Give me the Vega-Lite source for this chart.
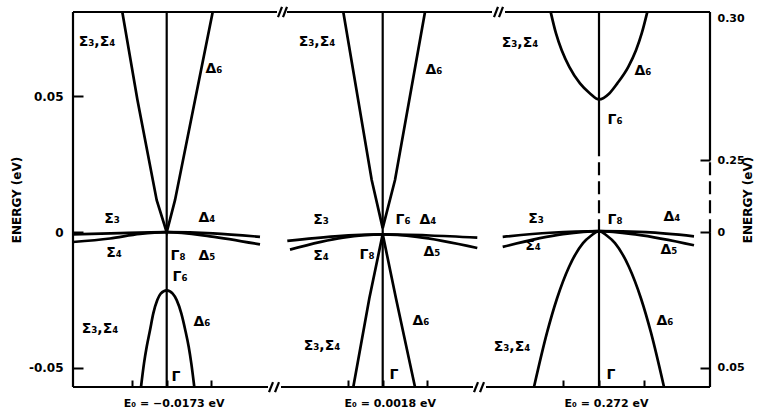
{
  "$schema": "https://vega.github.io/schema/vega-lite/v6.json",
  "width": 637,
  "height": 375,
  "autosize": "none",
  "padding": {"left": 73, "top": 12, "right": 51, "bottom": 24},
  "background": "white",
  "config": {
    "view": {"stroke": null},
    "text": {"font": "DejaVu Sans"},
    "axis": {"labelFont": "DejaVu Sans", "titleFont": "DejaVu Sans", "labelColor": "black", "titleColor": "black", "tickColor": "black", "grid": false, "domain": false}
  },
  "datasets": {
    "vlines": [
      {"b": "p1c", "k": 0.493, "E": 0.0811}, {"b": "p1c", "k": 0.645, "E": 0.0486}, {"b": "p1c", "k": 0.837, "E": 0.0118}, {"b": "p1c", "k": 0.937, "E": 0}, {"b": "p1c", "k": 1.02, "E": 0.0118}, {"b": "p1c", "k": 1.22, "E": 0.0486}, {"b": "p1c", "k": 1.397, "E": 0.0811},
      {"b": "p2c", "k": 2.703, "E": 0.0811}, {"b": "p2c", "k": 2.987, "E": 0.0192}, {"b": "p2c", "k": 3.097, "E": 0.0015}, {"b": "p2c", "k": 3.22, "E": 0.0192}, {"b": "p2c", "k": 3.52, "E": 0.0811},
      {"b": "p2v", "k": 2.803, "E": -0.057}, {"b": "p2v", "k": 2.963, "E": -0.0244}, {"b": "p2v", "k": 3.097, "E": -0.0007}, {"b": "p2v", "k": 3.23, "E": -0.0244}, {"b": "p2v", "k": 3.42, "E": -0.057}
    ],
    "curves": [
      {"b": "p1v", "k": 0.68, "E": -0.057}, {"b": "p1v", "k": 0.71, "E": -0.0483}, {"b": "p1v", "k": 0.737, "E": -0.0422}, {"b": "p1v", "k": 0.77, "E": -0.0361}, {"b": "p1v", "k": 0.803, "E": -0.0299}, {"b": "p1v", "k": 0.843, "E": -0.025}, {"b": "p1v", "k": 0.877, "E": -0.0226}, {"b": "p1v", "k": 0.937, "E": -0.0214}, {"b": "p1v", "k": 0.997, "E": -0.0226}, {"b": "p1v", "k": 1.037, "E": -0.025}, {"b": "p1v", "k": 1.083, "E": -0.0299}, {"b": "p1v", "k": 1.123, "E": -0.0361}, {"b": "p1v", "k": 1.157, "E": -0.0422}, {"b": "p1v", "k": 1.183, "E": -0.0483}, {"b": "p1v", "k": 1.213, "E": -0.057},
      {"b": "p1h1", "k": 0, "E": -0.0008}, {"b": "p1h1", "k": 0.47, "E": -0.0003}, {"b": "p1h1", "k": 0.937, "E": 0}, {"b": "p1h1", "k": 1.4, "E": -0.0004}, {"b": "p1h1", "k": 1.87, "E": -0.0017},
      {"b": "p1h2", "k": 0, "E": -0.0036}, {"b": "p1h2", "k": 0.37, "E": -0.0023}, {"b": "p1h2", "k": 0.67, "E": -0.0006}, {"b": "p1h2", "k": 0.937, "E": 0}, {"b": "p1h2", "k": 1.37, "E": -0.0015}, {"b": "p1h2", "k": 1.87, "E": -0.0045},
      {"b": "p2h1", "k": 2.143, "E": -0.0032}, {"b": "p2h1", "k": 2.62, "E": -0.0015}, {"b": "p2h1", "k": 3.097, "E": -0.0008}, {"b": "p2h1", "k": 3.57, "E": -0.0012}, {"b": "p2h1", "k": 4.043, "E": -0.002},
      {"b": "p2h2", "k": 2.17, "E": -0.0064}, {"b": "p2h2", "k": 2.7, "E": -0.002}, {"b": "p2h2", "k": 3.097, "E": -0.0008}, {"b": "p2h2", "k": 3.44, "E": -0.0017}, {"b": "p2h2", "k": 4.043, "E": -0.0058},
      {"b": "p3c", "k": 4.777, "E": 0.0811}, {"b": "p3c", "k": 4.83, "E": 0.0732}, {"b": "p3c", "k": 4.887, "E": 0.067}, {"b": "p3c", "k": 4.963, "E": 0.0609}, {"b": "p3c", "k": 5.07, "E": 0.0548}, {"b": "p3c", "k": 5.17, "E": 0.0511}, {"b": "p3c", "k": 5.26, "E": 0.0489}, {"b": "p3c", "k": 5.363, "E": 0.0511}, {"b": "p3c", "k": 5.443, "E": 0.0548}, {"b": "p3c", "k": 5.553, "E": 0.0609}, {"b": "p3c", "k": 5.63, "E": 0.067}, {"b": "p3c", "k": 5.687, "E": 0.0732}, {"b": "p3c", "k": 5.743, "E": 0.0811},
      {"b": "p3v", "k": 4.61, "E": -0.057}, {"b": "p3v", "k": 4.74, "E": -0.037}, {"b": "p3v", "k": 4.84, "E": -0.0244}, {"b": "p3v", "k": 4.96, "E": -0.0128}, {"b": "p3v", "k": 5.1, "E": -0.004}, {"b": "p3v", "k": 5.18, "E": -0.0013}, {"b": "p3v", "k": 5.26, "E": 0.0004}, {"b": "p3v", "k": 5.34, "E": -0.0013}, {"b": "p3v", "k": 5.42, "E": -0.004}, {"b": "p3v", "k": 5.56, "E": -0.0128}, {"b": "p3v", "k": 5.68, "E": -0.0244}, {"b": "p3v", "k": 5.78, "E": -0.037}, {"b": "p3v", "k": 5.91, "E": -0.057},
      {"b": "p3h1", "k": 4.297, "E": -0.0017}, {"b": "p3h1", "k": 4.77, "E": -0.0002}, {"b": "p3h1", "k": 5.26, "E": 0.0004}, {"b": "p3h1", "k": 5.73, "E": 0}, {"b": "p3h1", "k": 6.21, "E": -0.0015},
      {"b": "p3h2", "k": 4.297, "E": -0.0054}, {"b": "p3h2", "k": 4.9, "E": -0.0007}, {"b": "p3h2", "k": 5.26, "E": 0.0004}, {"b": "p3h2", "k": 5.64, "E": -0.0009}, {"b": "p3h2", "k": 6.21, "E": -0.0048}
    ],
    "rules": [
      {"k": 0, "k2": 0, "E": -0.057, "E2": 0.0811, "s": "solid"},
      {"k": 0, "k2": 2.04, "E": 0.0811, "E2": 0.0811, "s": "solid"},
      {"k": 2.14, "k2": 4.19, "E": 0.0811, "E2": 0.0811, "s": "solid"},
      {"k": 4.32, "k2": 6.37, "E": 0.0811, "E2": 0.0811, "s": "solid"},
      {"k": 0, "k2": 1.95, "E": -0.057, "E2": -0.057, "s": "solid"},
      {"k": 2.08, "k2": 4.0, "E": -0.057, "E2": -0.057, "s": "solid"},
      {"k": 4.13, "k2": 6.37, "E": -0.057, "E2": -0.057, "s": "solid"},
      {"k": 6.37, "k2": 6.37, "E": -0.057, "E2": 0, "s": "solid"},
      {"k": 6.37, "k2": 6.37, "E": 0, "E2": 0.0265, "s": "dashed"},
      {"k": 6.37, "k2": 6.37, "E": 0.0265, "E2": 0.0811, "s": "solid"},
      {"k": 0.937, "k2": 0.937, "E": -0.057, "E2": 0.0811, "s": "solid"},
      {"k": 3.097, "k2": 3.097, "E": -0.057, "E2": 0.0811, "s": "solid"},
      {"k": 5.26, "k2": 5.26, "E": -0.057, "E2": 0, "s": "solid"},
      {"k": 5.26, "k2": 5.26, "E": 0, "E2": 0.0284, "s": "dashed"},
      {"k": 5.26, "k2": 5.26, "E": 0.0284, "E2": 0.0811, "s": "solid"},
      {"k": 2.05, "k2": 2.09, "E": 0.0792, "E2": 0.083, "s": "solid"},
      {"k": 2.1, "k2": 2.14, "E": 0.0792, "E2": 0.083, "s": "solid"},
      {"k": 4.21, "k2": 4.25, "E": 0.0792, "E2": 0.083, "s": "solid"},
      {"k": 4.26, "k2": 4.3, "E": 0.0792, "E2": 0.083, "s": "solid"},
      {"k": 1.96, "k2": 2.0, "E": -0.0589, "E2": -0.0552, "s": "solid"},
      {"k": 2.02, "k2": 2.06, "E": -0.0589, "E2": -0.0552, "s": "solid"},
      {"k": 4.01, "k2": 4.05, "E": -0.0589, "E2": -0.0552, "s": "solid"},
      {"k": 4.07, "k2": 4.11, "E": -0.0589, "E2": -0.0552, "s": "solid"}
    ],
    "labels": [
      {"t": "Σ₃,Σ₄", "k": 0.24, "E": 0.07}, {"t": "Δ₆", "k": 1.41, "E": 0.06}, {"t": "Σ₃", "k": 0.39, "E": 0.0048}, {"t": "Δ₄", "k": 1.34, "E": 0.0051}, {"t": "Σ₄", "k": 0.41, "E": -0.0077}, {"t": "Γ₈", "k": 1.05, "E": -0.0088}, {"t": "Δ₅", "k": 1.34, "E": -0.0088}, {"t": "Γ₆", "k": 1.07, "E": -0.0166}, {"t": "Δ₆", "k": 1.29, "E": -0.0331}, {"t": "Σ₃,Σ₄", "k": 0.27, "E": -0.0357}, {"t": "Γ", "k": 1.03, "E": -0.0534},
      {"t": "Σ₃,Σ₄", "k": 2.44, "E": 0.07}, {"t": "Δ₆", "k": 3.61, "E": 0.0597}, {"t": "Σ₃", "k": 2.48, "E": 0.0044}, {"t": "Γ₆", "k": 3.3, "E": 0.0044}, {"t": "Δ₄", "k": 3.55, "E": 0.0044}, {"t": "Σ₄", "k": 2.48, "E": -0.0088}, {"t": "Γ₈", "k": 2.94, "E": -0.0085}, {"t": "Δ₅", "k": 3.59, "E": -0.0074}, {"t": "Δ₆", "k": 3.48, "E": -0.0328}, {"t": "Σ₃,Σ₄", "k": 2.49, "E": -0.042}, {"t": "Γ", "k": 3.21, "E": -0.0527},
      {"t": "Σ₃,Σ₄", "k": 4.47, "E": 0.0696}, {"t": "Δ₆", "k": 5.7, "E": 0.0593}, {"t": "Γ₆", "k": 5.42, "E": 0.0412}, {"t": "Σ₃", "k": 4.63, "E": 0.0048}, {"t": "Γ₈", "k": 5.42, "E": 0.0044}, {"t": "Δ₄", "k": 5.99, "E": 0.0055}, {"t": "Σ₄", "k": 4.6, "E": -0.0052}, {"t": "Δ₅", "k": 5.96, "E": -0.0066}, {"t": "Δ₆", "k": 5.92, "E": -0.0328}, {"t": "Σ₃,Σ₄", "k": 4.39, "E": -0.0423}, {"t": "Γ", "k": 5.38, "E": -0.0527}
    ]
  },
  "encoding": {
    "x": {
      "field": "k", "type": "quantitative",
      "scale": {"domain": [0, 6.37], "nice": false, "zero": false},
      "axis": {
        "title": null,
        "values": [0.587, 0.937, 1.377, 2.747, 3.097, 3.537, 4.897, 5.26, 5.713],
        "labelExpr": "abs(datum.value - 0.937) < 0.01 ? 'E₀ = −0.0173 eV' : abs(datum.value - 3.097) < 0.01 ? 'E₀ = 0.0018 eV' : abs(datum.value - 5.26) < 0.01 ? 'E₀ = 0.272 eV' : ''",
        "tickSize": -7, "tickWidth": 2,
        "labelPadding": 17, "labelOffset": 7,
        "labelFontSize": 11, "labelFontWeight": "bold",
        "labelOverlap": false, "labelFlush": false, "labelBound": false
      }
    }
  },
  "layer": [
    {
      "data": {"name": "vlines"},
      "mark": {"type": "line", "color": "black", "strokeWidth": 2.7, "interpolate": "linear"},
      "encoding": {
        "y": {
          "field": "E", "type": "quantitative",
          "scale": {"domain": [-0.057, 0.0811], "nice": false, "zero": false},
          "axis": {
            "orient": "left",
            "title": "ENERGY (eV)", "titleFontSize": 12, "titleFontWeight": "bold", "titlePadding": 5,
            "values": [-0.05, 0, 0.05],
            "labelExpr": "datum.value == 0 ? '0' : datum.value > 0 ? '0.05' : '-0.05'",
            "tickSize": -10, "tickWidth": 2, "labelPadding": 20,
            "labelFontSize": 12, "labelFontWeight": "bold"
          }
        },
        "detail": {"field": "b"}
      }
    },
    {
      "data": {"name": "curves"},
      "mark": {"type": "line", "color": "black", "strokeWidth": 2.7, "interpolate": "monotone"},
      "encoding": {
        "y": {"field": "E", "type": "quantitative", "scale": {"domain": [-0.057, 0.0811], "nice": false, "zero": false}, "axis": null},
        "detail": {"field": "b"}
      }
    },
    {
      "data": {"name": "rules"},
      "mark": {"type": "rule", "color": "black", "strokeWidth": 2.2},
      "encoding": {
        "x2": {"field": "k2"},
        "y": {
          "field": "E", "type": "quantitative",
          "scale": {"domain": [-0.057, 0.0811], "nice": false, "zero": false},
          "axis": {
            "orient": "right",
            "title": "ENERGY (eV)", "titleFontSize": 12, "titleFontWeight": "bold", "titlePadding": 10, "titleAngle": 270,
            "values": [-0.05, 0, 0.0265, 0.0788],
            "labelExpr": "datum.value > 0.07 ? '0.30' : datum.value > 0.01 ? '0.25' : datum.value > -0.01 ? '0' : '0.05'",
            "tickSize": -10, "tickWidth": 2, "labelPadding": 17,
            "tickOpacity": {"condition": {"test": "datum.value > 0.07", "value": 0}, "value": 1},
            "labelFontSize": 11, "labelFontWeight": "bold"
          }
        },
        "y2": {"field": "E2"},
        "strokeDash": {"field": "s", "type": "nominal", "scale": {"domain": ["solid", "dashed"], "range": [[1, 0], [13, 6]]}, "legend": null}
      }
    },
    {
      "data": {"name": "labels"},
      "mark": {"type": "text", "color": "black", "fontSize": 14, "fontWeight": "bold", "align": "center", "baseline": "middle"},
      "encoding": {
        "y": {"field": "E", "type": "quantitative", "scale": {"domain": [-0.057, 0.0811], "nice": false, "zero": false}, "axis": null},
        "text": {"field": "t"}
      }
    }
  ],
  "resolve": {"axis": {"y": "independent"}}
}
